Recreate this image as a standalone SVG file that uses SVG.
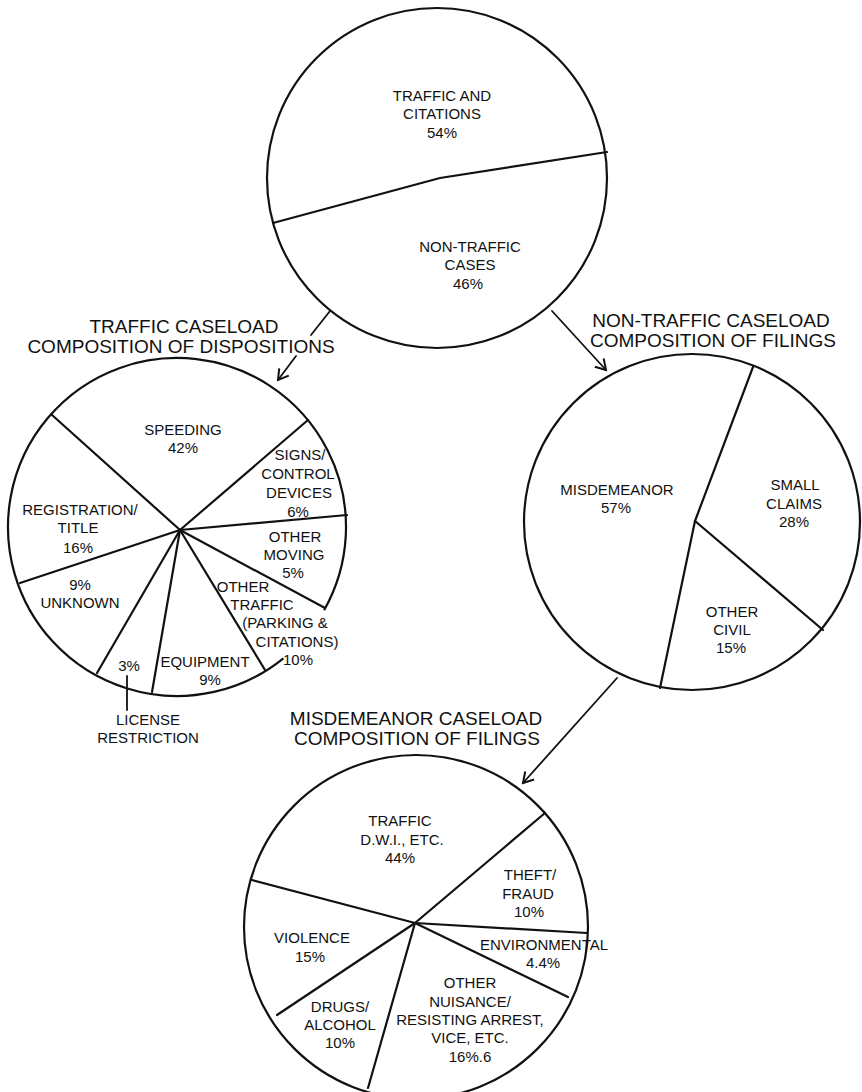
<svg xmlns="http://www.w3.org/2000/svg" width="862" height="1092" viewBox="0 0 862 1092">
  <style>
    .rim { fill: none; stroke: #111; stroke-width: 2.2; }
    .spoke { fill: none; stroke: #111; stroke-width: 2.2; stroke-linecap: round; stroke-linejoin: round; }
    .lbl { font-family: "Liberation Sans", Arial, Helvetica, sans-serif; font-size: 15px; fill: #111; text-anchor: middle; }
    .ttl { font-family: "Liberation Sans", Arial, Helvetica, sans-serif; font-size: 19px; fill: #111; text-anchor: middle; }
    .conn { fill: none; stroke: #111; stroke-width: 1.8; stroke-linecap: round; }
  </style>
  <defs>
    <marker id="head" viewBox="-12 -8 14 16" refX="0" refY="0" markerWidth="14" markerHeight="16" markerUnits="userSpaceOnUse" orient="auto">
      <path d="M -10 -6 L 0 0 L -10 6" fill="none" stroke="#111" stroke-width="2" stroke-linejoin="miter"/>
    </marker>
  </defs>
  <rect width="862" height="1092" fill="#fff"/>

  <!-- Overall caseload -->
  <g id="pie-total">
    <circle class="rim" cx="437" cy="178" r="170"/>
    <polyline class="spoke" points="273,223 440,178 607,152"/>
    <text class="lbl" x="442" y="101">TRAFFIC AND</text>
    <text class="lbl" x="442" y="119">CITATIONS</text>
    <text class="lbl" x="442" y="138">54%</text>
    <text class="lbl" x="470" y="252">NON-TRAFFIC</text>
    <text class="lbl" x="470" y="270">CASES</text>
    <text class="lbl" x="468" y="289">46%</text>
  </g>

  <!-- Traffic caseload -->
  <g id="pie-traffic">
    <text class="ttl" x="184" y="333">TRAFFIC CASELOAD</text>
    <text class="ttl" x="181" y="353">COMPOSITION OF DISPOSITIONS</text>
    <path class="rim" d="M 283.4 658.3 A 169 169 0 1 1 324.1 610.2"/>
    <g class="spoke">
      <line x1="180" y1="530" x2="52" y2="415"/>
      <line x1="180" y1="530" x2="308" y2="420"/>
      <line x1="180" y1="530" x2="347" y2="515"/>
      <line x1="180" y1="530" x2="325" y2="608"/>
      <line x1="180" y1="530" x2="265" y2="670"/>
      <line x1="180" y1="530" x2="152" y2="692"/>
      <line x1="180" y1="530" x2="97" y2="673"/>
      <line x1="180" y1="530" x2="20" y2="583"/>
      <line x1="127" y1="676" x2="127" y2="710" stroke-width="1.8"/>
    </g>
    <text class="lbl" x="183" y="435">SPEEDING</text>
    <text class="lbl" x="183" y="453">42%</text>
    <text class="lbl" x="300" y="460">SIGNS/</text>
    <text class="lbl" x="298" y="479">CONTROL</text>
    <text class="lbl" x="299" y="498">DEVICES</text>
    <text class="lbl" x="298" y="517">6%</text>
    <text class="lbl" x="295" y="542">OTHER</text>
    <text class="lbl" x="294" y="560">MOVING</text>
    <text class="lbl" x="293" y="578">5%</text>
    <text class="lbl" x="243" y="592">OTHER</text>
    <text class="lbl" x="262" y="610">TRAFFIC</text>
    <text class="lbl" x="285" y="628">(PARKING &amp;</text>
    <text class="lbl" x="297" y="647">CITATIONS)</text>
    <text class="lbl" x="298" y="665">10%</text>
    <text class="lbl" x="80" y="515">REGISTRATION/</text>
    <text class="lbl" x="78" y="533">TITLE</text>
    <text class="lbl" x="78" y="553">16%</text>
    <text class="lbl" x="80" y="590">9%</text>
    <text class="lbl" x="80" y="608">UNKNOWN</text>
    <text class="lbl" x="129" y="671">3%</text>
    <text class="lbl" x="205" y="667">EQUIPMENT</text>
    <text class="lbl" x="210" y="685">9%</text>
    <text class="lbl" x="148" y="725" text-anchor="end">LICENSE</text>
    <text class="lbl" x="148" y="743" text-anchor="end">RESTRICTION</text>
  </g>

  <!-- Non-traffic caseload -->
  <g id="pie-nontraffic">
    <text class="ttl" x="711" y="327">NON-TRAFFIC CASELOAD</text>
    <text class="ttl" x="713" y="347">COMPOSITION OF FILINGS</text>
    <circle class="rim" cx="692" cy="522" r="168"/>
    <g class="spoke">
      <line x1="695" y1="521" x2="753" y2="367"/>
      <line x1="695" y1="521" x2="660" y2="688"/>
      <line x1="695" y1="521" x2="823" y2="630"/>
    </g>
    <text class="lbl" x="617" y="495">MISDEMEANOR</text>
    <text class="lbl" x="616" y="513">57%</text>
    <text class="lbl" x="795" y="490">SMALL</text>
    <text class="lbl" x="794" y="509">CLAIMS</text>
    <text class="lbl" x="794" y="527">28%</text>
    <text class="lbl" x="732" y="617">OTHER</text>
    <text class="lbl" x="732" y="635">CIVIL</text>
    <text class="lbl" x="731" y="653">15%</text>
  </g>

  <!-- Misdemeanor caseload -->
  <g id="pie-misdemeanor">
    <text class="ttl" x="416" y="725">MISDEMEANOR CASELOAD</text>
    <text class="ttl" x="417" y="745">COMPOSITION OF FILINGS</text>
    <circle class="rim" cx="416" cy="927" r="172"/>
    <g class="spoke">
      <line x1="415" y1="923" x2="545" y2="813"/>
      <line x1="415" y1="923" x2="587" y2="933"/>
      <line x1="415" y1="923" x2="568" y2="997"/>
      <line x1="415" y1="923" x2="368" y2="1088"/>
      <line x1="415" y1="923" x2="277" y2="1015"/>
      <line x1="415" y1="923" x2="252" y2="880"/>
    </g>
    <text class="lbl" x="400" y="826">TRAFFIC</text>
    <text class="lbl" x="402" y="845">D.W.I., ETC.</text>
    <text class="lbl" x="400" y="863">44%</text>
    <text class="lbl" x="530" y="880">THEFT/</text>
    <text class="lbl" x="528" y="899">FRAUD</text>
    <text class="lbl" x="529" y="917">10%</text>
    <text class="lbl" x="312" y="943">VIOLENCE</text>
    <text class="lbl" x="310" y="962">15%</text>
    <text class="lbl" x="544" y="950">ENVIRONMENTAL</text>
    <text class="lbl" x="543" y="968">4.4%</text>
    <text class="lbl" x="470" y="988">OTHER</text>
    <text class="lbl" x="470" y="1007">NUISANCE/</text>
    <text class="lbl" x="470" y="1025">RESISTING ARREST,</text>
    <text class="lbl" x="470" y="1043">VICE, ETC.</text>
    <text class="lbl" x="470" y="1062">16%.6</text>
    <text class="lbl" x="340" y="1012">DRUGS/</text>
    <text class="lbl" x="340" y="1030">ALCOHOL</text>
    <text class="lbl" x="340" y="1048">10%</text>
  </g>

  <!-- Connectors between the charts -->
  <g id="connectors">
    <line class="conn" x1="330" y1="311" x2="311" y2="335"/>
    <line class="conn" x1="296" y1="356" x2="278" y2="380" marker-end="url(#head)"/>
    <line class="conn" x1="552" y1="311" x2="606" y2="370" marker-end="url(#head)"/>
    <line class="conn" x1="617" y1="678" x2="523" y2="783" marker-end="url(#head)"/>
  </g>
</svg>
